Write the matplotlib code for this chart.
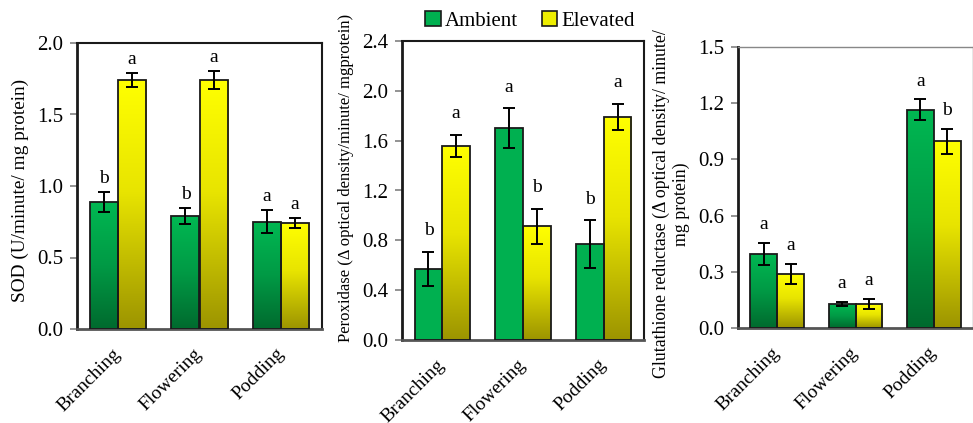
import numpy as np
import matplotlib
matplotlib.use("Agg")
import matplotlib.pyplot as plt
from matplotlib.colors import LinearSegmentedColormap
from matplotlib.patches import Patch

plt.rcParams['font.family'] = ['Liberation Serif', 'DejaVu Serif']

stages = ["Branching", "Flowering", "Podding"]
series = ["Ambient", "Elevated"]

sod_amb = [0.89, 0.79, 0.75]
sod_amb_err = [0.07, 0.055, 0.08]
sod_elev = [1.74, 1.74, 0.74]
sod_elev_err = [0.05, 0.065, 0.035]
sod_letters_amb = ["b", "b", "a"]
sod_letters_elev = ["a", "a", "a"]

pox_amb = [0.57, 1.70, 0.77]
pox_amb_err = [0.14, 0.16, 0.19]
pox_elev = [1.556, 0.914, 1.79]
pox_elev_err = [0.09, 0.14, 0.105]
pox_letters_amb = ["b", "a", "b"]
pox_letters_elev = ["a", "b", "a"]

gr_amb = [0.396, 0.128, 1.166]
gr_amb_err = [0.06, 0.012, 0.055]
gr_elev = [0.288, 0.128, 0.996]
gr_elev_err = [0.053, 0.027, 0.066]
gr_letters_amb = ["a", "a", "a"]
gr_letters_elev = ["a", "a", "b"]

green_cmap = LinearSegmentedColormap.from_list("g", ["#006a2e", "#009a45", "#00b852"])
yellow_cmap = LinearSegmentedColormap.from_list("y", [(0, "#9c9400"), (0.55, "#e8e400"), (1.0, "#ffff00")])

W, H = 973, 423
fig = plt.figure(figsize=(W / 100, H / 100), dpi=100)

def fig_axes(l, r, t, b):
    return fig.add_axes([l / W, 1 - b / H, (r - l) / W, (b - t) / H])

ax1 = fig_axes(77, 322, 43, 329)
ax2 = fig_axes(402, 644, 41, 340)
ax3 = fig_axes(738, 973, 47, 328)

def gradient_bars(ax, x, vals, errs, cmap, flat=None):
    bars = ax.bar(x, vals, width=0.343, facecolor="none", edgecolor="#1a1a1a",
                  linewidth=1.3, zorder=3)
    grad = np.linspace(0, 1, 256).reshape(-1, 1)
    for rect in bars:
        x0, y0 = rect.get_x(), rect.get_y()
        w, h = rect.get_width(), rect.get_height()
        if flat is not None:
            ax.bar(x0 + w / 2, h, width=w, color=flat, zorder=2, linewidth=0)
        else:
            im = ax.imshow(grad, extent=[x0, x0 + w, y0, y0 + h], origin="lower",
                           aspect="auto", cmap=cmap, zorder=2, interpolation="bilinear")
            im.set_clip_path(rect)
    ax.errorbar(x, vals, yerr=errs, fmt="none", ecolor="black", elinewidth=1.4,
                capsize=4, capthick=1.4, zorder=4)
    return bars

def panel(ax, amb, amb_err, elev, elev_err, la, le, ymax, step, ylabel, ylsize,
          yl_y, gap, flat_amb=False, fmt="{:.1f}"):
    x = np.arange(len(stages))
    off = 0.343 / 2
    gradient_bars(ax, x - off, amb, amb_err, green_cmap, flat="#00b050" if flat_amb else None)
    gradient_bars(ax, x + off, elev, elev_err, yellow_cmap)
    for xi, v, e, t in zip(x - off, amb, amb_err, la):
        ax.annotate(t, (xi, v + e), xytext=(0, gap), textcoords="offset points",
                    ha="center", va="bottom", fontsize=14)
    for xi, v, e, t in zip(x + off, elev, elev_err, le):
        ax.annotate(t, (xi, v + e), xytext=(0, gap), textcoords="offset points",
                    ha="center", va="bottom", fontsize=14)
    ax.set_xlim(-0.5, 2.5)
    ax.set_ylim(0, ymax)
    ticks = np.arange(0, ymax + step / 2, step)
    ax.set_yticks(ticks)
    ax.set_yticklabels([fmt.format(t) for t in ticks], fontsize=15)
    ax.set_xticks(x)
    ax.set_xticklabels(stages, rotation=45, ha="right", va="center",
                       rotation_mode="anchor", fontsize=14)
    ax.tick_params(axis="x", length=0, pad=16)
    ax.tick_params(axis="y", length=5, width=1.2, color="#808080", direction="out", pad=5)
    ax.set_ylabel(ylabel, fontsize=ylsize, labelpad=6, y=yl_y)
    for s in ["left", "top", "right"]:
        ax.spines[s].set_color("#1a1a1a")
        ax.spines[s].set_linewidth(1.5)
    ax.spines["left"].set_linewidth(2)
    ax.spines["bottom"].set_color("#555555")
    ax.spines["bottom"].set_linewidth(2)

panel(ax1, sod_amb, sod_amb_err, sod_elev, sod_elev_err, sod_letters_amb, sod_letters_elev,
      2.0, 0.5, "SOD (U/minute/ mg protein)", 13.9, 0.486, 3.5)
panel(ax2, pox_amb, pox_amb_err, pox_elev, pox_elev_err, pox_letters_amb, pox_letters_elev,
      2.4, 0.4, "Peroxidase (Δ optical density/minute/ mgprotein)", 12.0, 0.542, 9,
      flat_amb=True)
panel(ax3, gr_amb, gr_amb_err, gr_elev, gr_elev_err, gr_letters_amb, gr_letters_elev,
      1.5, 0.3, "Glutathione reductase (Δ optical density/ minute/\nmg protein)", 12.8,
      0.441, 7)
ax3.yaxis.label.set_multialignment("center")
for s in ["top", "right"]:
    ax3.spines[s].set_color("#888888")
    ax3.spines[s].set_linewidth(1.0)

handles = [Patch(facecolor="#00b050", edgecolor="#1a1a1a", linewidth=1.2),
           Patch(facecolor="#eeee00", edgecolor="#1a1a1a", linewidth=1.2)]
fig.legend(handles, series, loc="center", bbox_to_anchor=(530 / W, 1 - 21 / H), ncol=2,
           frameon=False, fontsize=15, handlelength=0.75, handleheight=0.75,
           handletextpad=0.2, columnspacing=1.15, borderpad=0)

fig.savefig("out.png", dpi=100)
